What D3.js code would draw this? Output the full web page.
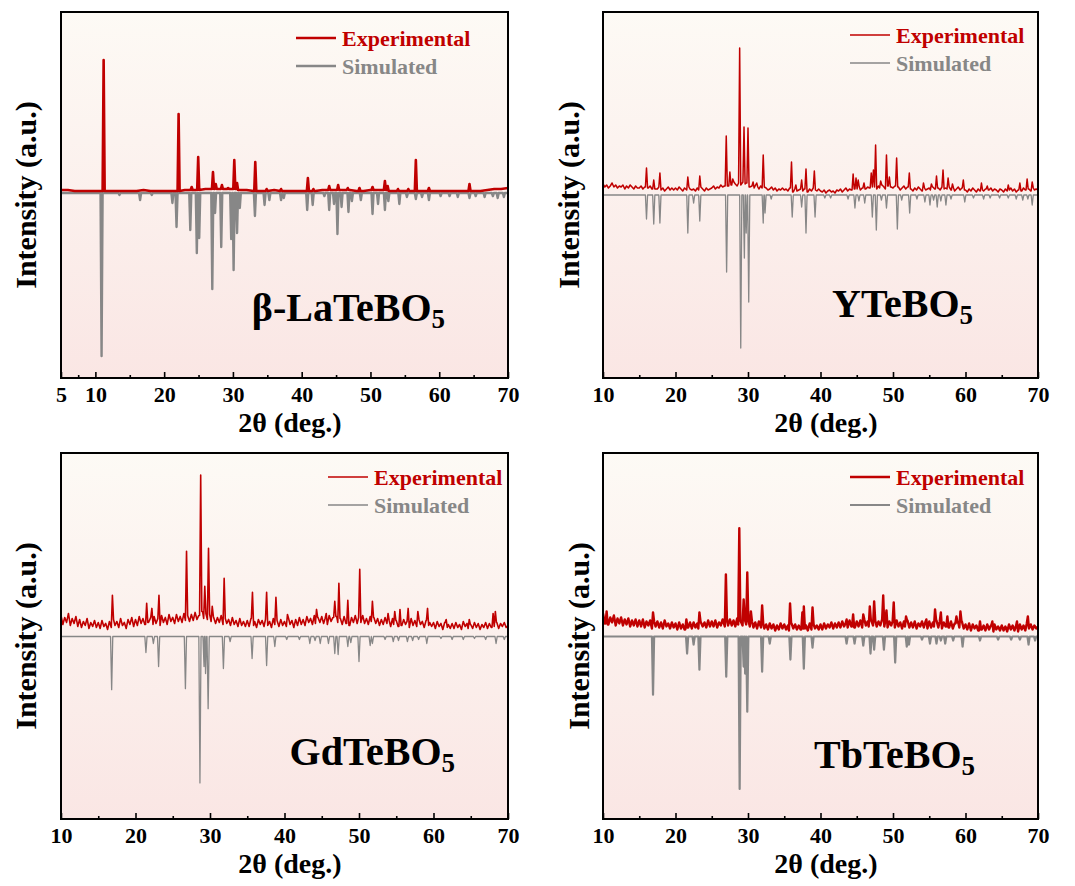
<!DOCTYPE html>
<html>
<head>
<meta charset="utf-8">
<script src="https://cdn.jsdelivr.net/npm/d3@7"></script>
<style>
  body { margin: 0; background: #fff; }
  text { font-family: "Liberation Serif", "Times New Roman", serif; font-weight: bold; }
</style>
</head>
<body>
<div id="wrapper"></div>
<script>
// ---- data (2theta in deg, intensity in a.u.) ----
var sampleNames = ["β-LaTeBO", "YTeBO", "GdTeBO", "TbTeBO"];
var sampleSub = "5";
var legendNames = ["Experimental", "Simulated"];

var ticksLaTe = [5, 10, 20, 30, 40, 50, 60, 70];
var minorLaTe = [7.5, 15, 25, 35, 45, 55, 65];
var ticksRest = [10, 20, 30, 40, 50, 60, 70];
var minorRest = [15, 25, 35, 45, 55, 65];

// experimental background, 1 deg steps from 5
var lateBg = [3,3,2,2,2,2,2,2,2,2, 2,2,3,2,2,2,2,2,3,3, 3,4,4,4,4,4,3,3,2,2,
  2,3,2,2,2,2,2,2,3,3, 3,3,3,2,2,3,3,3,2,2, 2,2,2,2,2,2,2,2,2,2, 2,2,3,4,4,5];
var lateExp = [[11.2,133],[22.1,79],[24.0,6],[24.95,36],[27.1,21],[27.5,9],[28.4,8],[29.3,5],[30.2,33],[30.6,10],
  [33.25,31],[34.9,4],[37.0,4],[40.9,15],[41.7,4],[44.0,7],[45.3,8],[46.7,5],[48.4,5],[50.3,6],[52.1,12],[52.5,7],
  [54.0,4],[55.5,4],[56.6,33],[58.5,5],[64.4,9]];
var lateSim = [[10.9,163],[13.5,2],[16.5,7],[18.2,2],[21.2,10],[21.8,34],[23.8,37],[24.75,60],[25.1,45],[27.0,96],
  [27.4,20],[28.3,54],[29.75,46],[30.1,77],[30.6,40],[31.0,15],[33.2,23],[34.6,12],[35.3,7],[37.0,7],[37.4,5],
  [40.8,17],[41.6,12],[43.3,3],[44.0,17],[44.7,11],[45.2,41],[45.8,14],[46.8,19],[47.3,8],[48.6,7],[50.3,21],
  [51.1,11],[52.1,17],[52.6,8],[54.2,11],[55.3,4],[56.6,6],[57.5,4],[58.5,7],[60.2,3],[61.5,3],[62.7,4],[64.4,5],
  [65.3,3],[66.6,4],[67.8,3],[68.5,5],[69.4,4]];

// experimental background, 0.25 deg steps from 10 (one row = 2.5 deg)
var yteBg = [
  11,8,10,7,9,12,8,10,7,9,   8,10,6,9,7,10,8,6,9,7,
  7,9,6,8,5,7,9,6,8,6,       6,8,5,7,4,6,8,5,7,5,
  7,5,8,6,4,7,5,8,6,5,       6,4,7,5,8,6,4,7,5,6,
  7,9,6,8,7,10,8,9,11,9,     12,10,13,11,9,12,10,13,11,12,
  10,8,9,7,10,8,6,9,7,8,     7,5,6,8,5,7,4,6,5,7,
  5,6,4,7,5,3,6,4,5,6,       4,6,5,3,6,4,7,5,4,6,
  4,3,5,2,4,5,3,4,2,5,       4,6,3,5,7,4,6,5,3,6,
  6,8,5,7,9,6,8,7,5,8,       8,6,9,7,10,8,6,9,7,8,
  7,9,6,8,5,7,9,6,8,6,       6,4,7,5,8,6,4,7,5,6,
  7,5,8,6,9,7,5,8,6,7,       6,8,5,7,4,6,8,5,7,5,
  5,3,6,4,7,5,3,6,4,5,       4,6,3,5,7,4,6,5,3,6,
  5,3,6,4,5,7,4,6,3,5,       6,4,7,5,8,6,4,7,5,6,
  5];
var yteExp = [[16.0,27],[17.0,15],[17.85,22],[21.7,18],[23.35,19],[27.0,59],[27.5,23],[27.9,16],[28.85,147],
  [29.45,68],[30.0,67],[30.7,13],[31.2,12],[32.1,40],[36.0,33],[36.6,10],[37.4,15],[38.0,26],[39.15,24],
  [44.5,21],[44.9,17],[45.2,15],[46.0,12],[47.0,22],[47.3,25],[47.6,50],[48.3,14],[49.1,40],[49.5,18],[50.5,37],
  [52.25,22],[54.2,12],[55.3,11],[56.0,19],[56.9,25],[57.6,17],[58.2,11],[59.7,15],[62.2,12],[63.0,9],[65.9,10],
  [67.5,12],[68.5,16],[69.2,13]];
var yteSim = [[16.0,24],[17.0,29],[17.85,28],[21.7,38],[22.5,8],[23.35,26],[27.05,77],[29.0,153],[29.5,63],
  [29.75,38],[30.1,107],[32.1,28],[32.35,18],[33.2,4],[36.1,22],[37.4,12],[38.0,38],[39.25,22],[40.6,3],[41.4,3],
  [43.8,4],[44.75,13],[45.3,6],[46.1,8],[47.15,22],[47.7,35],[48.4,5],[49.1,13],[50.6,34],[51.2,5],[52.3,18],
  [53.3,4],[54.4,7],[55.1,10],[55.6,5],[56.1,12],[56.6,6],[57.3,10],[58.0,4],[59.9,7],[61.1,3],[62.5,4],[63.4,3],
  [64.7,3],[65.9,3],[67.0,4],[67.9,5],[68.6,4],[69.2,10]];

var gdteBg = [
  21,12,19,14,23,11,18,13,20,10,   17,9,15,11,18,8,14,10,16,9,
  14,8,16,10,13,7,15,9,17,11,      15,9,18,11,14,8,17,12,19,10,
  17,11,20,13,18,12,21,14,19,12,   20,13,18,11,21,14,19,12,22,15,
  19,13,22,15,20,14,23,16,21,15,   22,16,24,17,21,15,25,18,23,17,
  22,15,20,13,19,14,21,12,18,13,   17,11,19,12,16,10,18,11,15,10,
  16,10,18,11,15,9,17,12,16,10,    17,11,15,9,18,12,16,10,17,11,
  15,10,18,12,16,9,17,11,19,12,    17,11,20,14,18,12,21,13,19,14,
  20,13,18,12,21,15,19,13,20,14,   18,12,20,13,17,11,19,14,21,13,
  19,14,21,13,18,12,20,15,19,13,   18,11,17,12,19,13,16,10,18,12,
  16,10,18,11,17,12,15,9,18,11,    16,10,17,12,15,9,16,11,14,10,
  14,8,15,10,13,7,14,9,12,8,       13,8,14,9,12,7,15,10,13,8,
  12,8,14,9,13,7,12,9,14,8,        13,9,15,10,14,8,13,10,14,9,
  11];
var gdteExp = [[16.9,41],[21.5,33],[22.2,28],[23.15,41],[26.85,85],[28.75,161],[29.3,50],[29.8,88],[30.3,30],
  [31.9,58],[35.7,44],[37.6,44],[38.85,39],[40.4,22],[44.3,27],[45.6,23],[46.75,35],[47.3,53],[48.5,36],[50.1,67],
  [51.8,35],[53.9,23],[54.8,25],[55.5,27],[56.6,28],[57.9,25],[59.2,28],[61.7,17],[64.8,17],[68.0,23],[68.3,25]];
var gdteSim = [[16.8,53],[21.4,16],[22.4,7],[23.1,30],[26.7,52],[28.65,146],[29.2,30],[29.4,37],[29.75,72],
  [31.8,32],[32.7,5],[35.65,22],[37.6,29],[38.7,10],[40.3,3],[42.0,3],[43.4,7],[44.1,4],[44.8,7],[45.9,7],
  [46.75,17],[47.2,18],[48.5,10],[48.9,6],[50.0,25],[51.5,9],[51.8,7],[53.5,3],[54.6,5],[55.3,4],[56.5,5],
  [57.2,4],[58.0,3],[59.1,7],[61.0,2],[62.5,3],[64.0,3],[65.5,2],[67.0,3],[68.4,7],[69.5,3]];

var tbteBg = [
  23,13,20,12,19,14,21,11,18,13,   19,11,17,12,18,10,16,11,17,10,
  16,10,17,9,15,11,16,8,15,10,     15,9,14,8,16,10,13,8,14,9,
  13,7,14,8,12,7,13,9,14,8,        14,9,13,8,15,10,14,9,16,10,
  15,10,16,9,14,11,17,10,16,11,    17,11,16,10,18,12,16,11,17,12,
  16,10,15,9,14,8,15,9,13,8,       12,7,13,8,12,6,11,7,13,8,
  12,7,11,6,13,8,12,7,11,7,        12,8,11,6,13,7,12,8,11,7,
  12,7,13,8,12,9,14,8,13,9,        14,9,15,10,13,9,16,10,15,9,
  15,10,16,9,17,11,15,10,16,11,    16,10,15,11,17,10,16,9,15,11,
  15,9,16,10,14,8,15,10,16,9,      14,9,15,8,13,10,15,9,14,8,
  15,9,14,10,16,9,15,8,14,10,      14,9,15,8,13,10,14,9,15,8,
  12,7,13,6,12,8,11,6,12,7,        11,6,12,7,11,5,12,7,10,6,
  11,6,10,5,12,7,11,6,10,5,        12,7,11,6,13,8,12,7,11,8,
  10];
var tbteExp = [[10.5,25],[16.9,24],[21.5,17],[23.3,24],[26.95,62],[28.8,108],[29.4,37],[29.9,64],[30.4,25],
  [31.95,31],[35.8,33],[37.5,24],[37.7,30],[38.9,29],[43.6,17],[44.5,22],[45.9,22],[46.8,30],[47.4,35],
  [48.65,41],[49.1,26],[50.1,34],[51.8,20],[54.6,17],[55.8,27],[56.6,24],[57.5,20],[58.75,20],[59.3,25],
  [62.0,15],[63.7,15],[67.1,15],[68.6,20]];
var tbteSim = [[16.9,58],[21.6,17],[22.5,8],[23.3,33],[27.0,40],[28.85,152],[29.4,30],[29.6,37],[29.9,75],
  [31.95,35],[33.0,7],[35.85,23],[37.7,32],[38.9,11],[43.6,7],[44.7,7],[45.9,9],[46.9,17],[47.4,13],[48.75,13],
  [50.3,26],[51.9,10],[52.2,8],[54.0,3],[55.1,7],[56.0,7],[56.6,4],[57.2,7],[58.3,4],[59.6,10],[62.0,4],
  [64.5,3],[66.3,3],[67.5,3],[68.7,8],[69.6,4]];

var red = "#c00000";
var gray = "#878787";

var panels = [
  {left: 61, top: 12, w: 447, xDom: [5, 70], yDom: [-185, 181], major: ticksLaTe, minor: minorLaTe,
   bg: lateBg, bgStart: 5, bgStep: 1, exp: lateExp, sim: lateSim, name: sampleNames[0],
   nameX: 445, nameY: 321, expW: 2.6, simW: 2.4, legX: 296, legY: 38, yLabX: 25, xTitleX: 290},
  {left: 603, top: 12, w: 435, xDom: [10, 70], yDom: [-183, 183], major: ticksRest, minor: minorRest,
   bg: yteBg, bgStart: 10, bgStep: 0.25, exp: yteExp, sim: yteSim, name: sampleNames[1],
   nameX: 973, nameY: 317, expW: 1.5, simW: 1.3, legX: 850, legY: 35, yLabX: 568, xTitleX: 826},
  {left: 61, top: 453, w: 447, xDom: [10, 70], yDom: [-182, 183], major: ticksRest, minor: minorRest,
   bg: gdteBg, bgStart: 10, bgStep: 0.25, exp: gdteExp, sim: gdteSim, name: sampleNames[2],
   nameX: 455, nameY: 765, expW: 1.6, simW: 1.3, legX: 328, legY: 477, yLabX: 25, xTitleX: 290},
  {left: 603, top: 453, w: 435, xDom: [10, 70], yDom: [-182, 183], major: ticksRest, minor: minorRest,
   bg: tbteBg, bgStart: 10, bgStep: 0.25, exp: tbteExp, sim: tbteSim, name: sampleNames[3],
   nameX: 975, nameY: 768, expW: 2.4, simW: 2.2, legX: 850, legY: 477, yLabX: 578, xTitleX: 826}
];

var plotH = 366;
var halfWidth = 0.15; // half base width of a drawn peak, in deg

function buildPattern(bg, start, step, peaks) {
  var pts = [];
  function bgAt(x) {
    var i = Math.max(0, Math.min(bg.length - 1, Math.round((x - start) / step)));
    return bg[i];
  }
  bg.forEach(function(v, i) {
    var x = start + i * step;
    var hit = peaks.some(function(p) { return Math.abs(p[0] - x) < halfWidth + 0.05; });
    if (!hit) pts.push([x, v]);
  });
  peaks.forEach(function(p) {
    pts.push([p[0] - halfWidth, bgAt(p[0] - halfWidth)]);
    pts.push([p[0], p[1]]);
    pts.push([p[0] + halfWidth, bgAt(p[0] + halfWidth)]);
  });
  pts.sort(function(a, b) { return a[0] - b[0]; });
  return pts;
}

var svg = d3.select("#wrapper").append("svg")
  .attr("width", 1075)
  .attr("height", 886);

var defs = svg.append("defs");
var grad = defs.append("linearGradient")
  .attr("id", "bgGrad")
  .attr("x1", 0).attr("y1", 0).attr("x2", 0).attr("y2", 1);
grad.append("stop").attr("offset", "0%").attr("stop-color", "#fdfaf5");
grad.append("stop").attr("offset", "100%").attr("stop-color", "#fae6e4");

panels.forEach(function(p, k) {
  var w = p.w;
  var g = svg.append("g").attr("transform", "translate(" + p.left + "," + p.top + ")");

  var x = d3.scaleLinear().domain(p.xDom).range([0, w]);
  var y = d3.scaleLinear().domain(p.yDom).range([plotH, 0]);

  g.append("rect")
    .attr("width", w).attr("height", plotH)
    .attr("fill", "url(#bgGrad)");

  defs.append("clipPath").attr("id", "clip" + k)
    .append("rect").attr("width", w).attr("height", plotH);

  var plot = g.append("g").attr("clip-path", "url(#clip" + k + ")");

  // simulated pattern is mirrored below the baseline
  var simPts = buildPattern([0, 0], p.xDom[0], p.xDom[1] - p.xDom[0], p.sim);
  var expPts = buildPattern(p.bg, p.bgStart, p.bgStep, p.exp);

  plot.append("path")
    .datum(simPts)
    .attr("fill", "none")
    .attr("stroke", gray)
    .attr("stroke-width", p.simW)
    .attr("stroke-linejoin", "round")
    .attr("d", d3.line().x(function(d) { return x(d[0]); }).y(function(d) { return y(-d[1]); }));

  plot.append("path")
    .datum(expPts)
    .attr("fill", "none")
    .attr("stroke", red)
    .attr("stroke-width", p.expW)
    .attr("stroke-linejoin", "round")
    .attr("d", d3.line().x(function(d) { return x(d[0]); }).y(function(d) { return y(d[1]); }));

  // axes: inward ticks, labels below
  var xAxis = g.append("g")
    .attr("transform", "translate(0," + plotH + ")")
    .call(d3.axisBottom(x).tickValues(p.major).tickSizeInner(-6).tickSizeOuter(0).tickPadding(8));
  xAxis.select(".domain").remove();
  xAxis.selectAll(".tick line").attr("stroke", "#000").attr("stroke-width", 1.6);
  xAxis.selectAll(".tick text")
    .attr("fill", "#000")
    .style("font-family", "'Liberation Serif', 'Times New Roman', serif")
    .style("font-weight", "bold")
    .style("font-size", "22px");

  var xMinor = g.append("g")
    .attr("transform", "translate(0," + plotH + ")")
    .call(d3.axisBottom(x).tickValues(p.minor).tickSizeInner(-3).tickSizeOuter(0).tickFormat(""));
  xMinor.select(".domain").remove();
  xMinor.selectAll(".tick line").attr("stroke", "#000").attr("stroke-width", 1.6);

  g.append("rect")
    .attr("width", w).attr("height", plotH)
    .attr("fill", "none")
    .attr("stroke", "#000")
    .attr("stroke-width", 2);

  // sample label
  var lab = svg.append("text")
    .attr("x", p.nameX).attr("y", p.nameY)
    .attr("text-anchor", "end")
    .style("font-size", "40px")
    .attr("fill", "#000");
  lab.append("tspan").text(p.name);
  lab.append("tspan").attr("dy", 7).style("font-size", "27px").text(sampleSub);

  // legend
  [red, gray].forEach(function(c, i) {
    var ly = p.legY + i * 28;
    svg.append("line")
      .attr("x1", p.legX).attr("x2", p.legX + 40)
      .attr("y1", ly).attr("y2", ly)
      .attr("stroke", c)
      .attr("stroke-width", i === 0 ? p.expW : p.simW);
    svg.append("text")
      .attr("x", p.legX + 46).attr("y", ly)
      .attr("dy", "0.35em")
      .attr("fill", c)
      .style("font-size", "22px")
      .text(legendNames[i]);
  });

  // axis titles
  svg.append("text")
    .attr("transform", "translate(" + p.yLabX + "," + (p.top + plotH / 2) + ") rotate(-90)")
    .attr("dy", "0.35em")
    .attr("text-anchor", "middle")
    .style("font-size", "30px")
    .text("Intensity (a.u.)");

  svg.append("text")
    .attr("x", p.xTitleX)
    .attr("y", p.top + plotH + 54)
    .attr("text-anchor", "middle")
    .style("font-size", "28px")
    .text("2θ (deg.)");
});
</script>
</body>
</html>
